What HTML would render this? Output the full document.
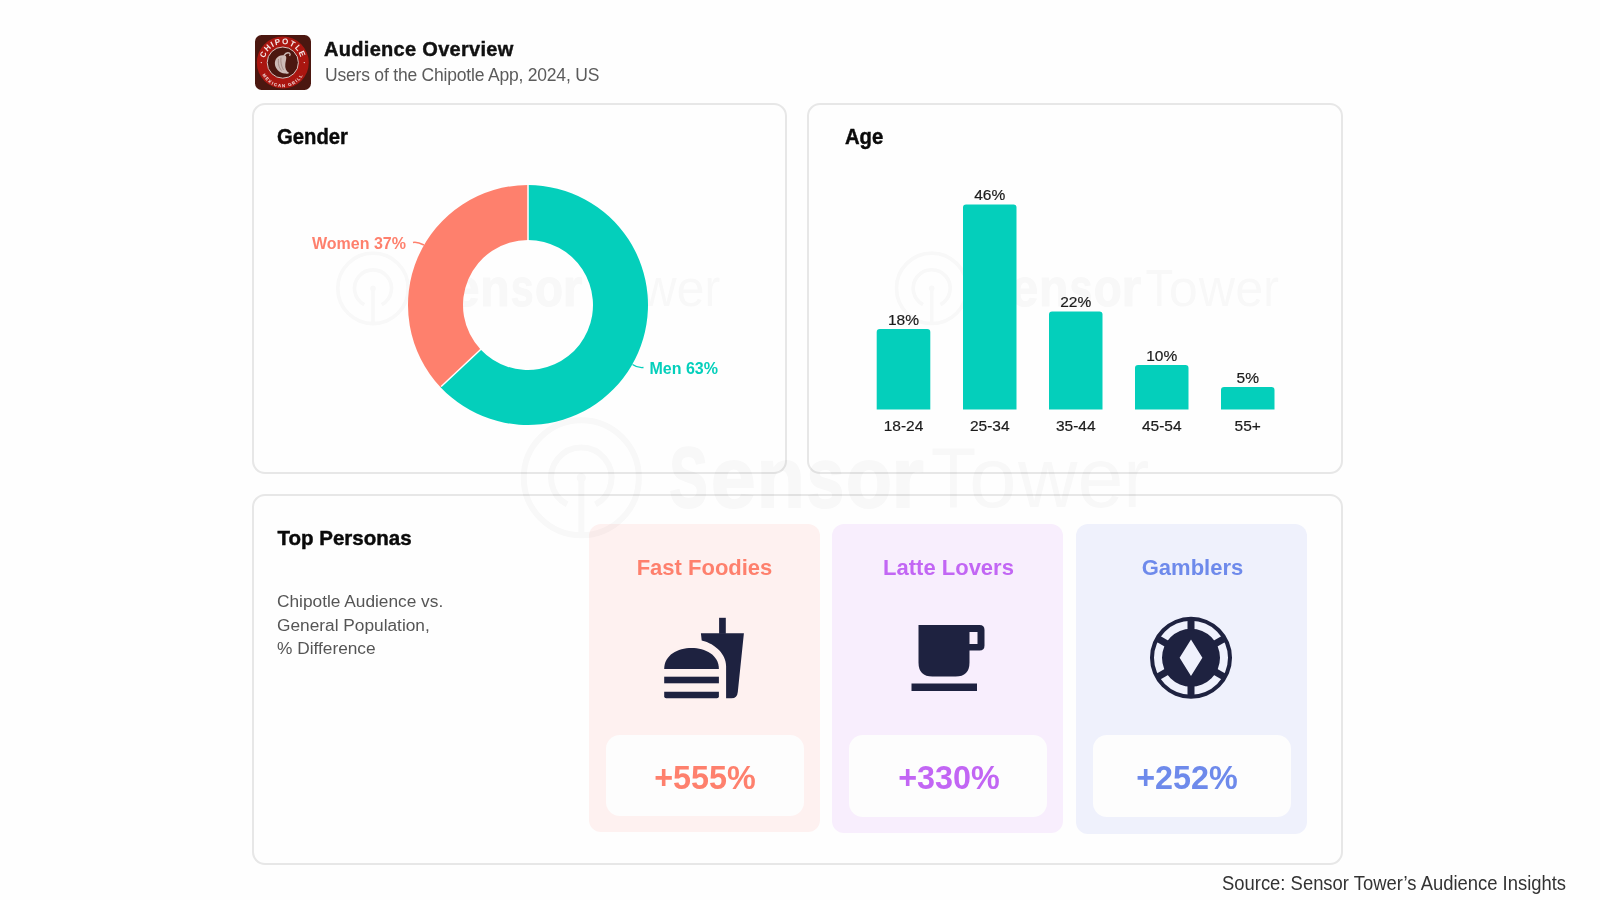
<!DOCTYPE html>
<html><head><meta charset="utf-8">
<style>
html,body{margin:0;padding:0;}
body{width:1600px;height:900px;position:relative;overflow:hidden;background:#fefefe;font-family:"Liberation Sans",sans-serif;}
.abs{position:absolute;}
.card{position:absolute;box-sizing:border-box;border:2px solid #e7e7e7;border-radius:13px;background:transparent;}
.pc{position:absolute;width:231px;height:308px;top:524px;border-radius:12px;}
.pbox{position:absolute;left:17px;top:211px;width:198px;height:81px;border-radius:14px;background:#fdfdfd;}
.t{position:absolute;white-space:nowrap;line-height:1;}
svg{position:absolute;left:0;top:0;}
</style></head>
<body>

<!-- cards -->
<div class="card" style="left:252px;top:103px;width:535px;height:371px;"></div>
<div class="card" style="left:807px;top:103px;width:536px;height:371px;"></div>
<div class="card" style="left:252px;top:494px;width:1091px;height:371px;"></div>

<!-- persona cards -->
<div class="pc" style="left:589px;background:#fef1f0;"><div class="pbox"></div></div>
<div class="pc" style="left:832px;height:309px;background:#f8eefd;"><div class="pbox" style="height:81.5px;"></div></div>
<div class="pc" style="left:1076px;height:310px;background:#eff1fc;"><div class="pbox" style="height:82px;"></div></div>

<!-- watermarks -->
<svg width="1600" height="900" viewBox="0 0 1600 900">
  <defs>
    <g id="wm">
      <g fill="none" stroke="#000" stroke-width="6">
        <circle cx="581.3" cy="477.8" r="57.55"/>
        <path d="M567.1,504.45 A30.25,30.25 0 1 1 595.5,504.45"/>
        <line x1="581.3" y1="479.4" x2="581.3" y2="535"/>
      </g>
      <circle cx="581.3" cy="477.8" r="4.6" fill="#000"/>
      <g font-family="Liberation Sans" fill="#000">
<text transform="translate(671.0,506.5) scale(0.672,1)" x="-2.48" y="0" font-size="86" font-weight="700" stroke="#000" stroke-width="2">S</text>
<text transform="translate(714.0,506.5) scale(0.932,1)" x="-3.36" y="0" font-size="86" font-weight="700" stroke="#000" stroke-width="2">e</text>
<text transform="translate(762.0,506.5) scale(0.915,1)" x="-5.67" y="0" font-size="86" font-weight="700" stroke="#000" stroke-width="2">n</text>
<text transform="translate(809.0,506.5) scale(0.782,1)" x="-3.02" y="0" font-size="86" font-weight="700" stroke="#000" stroke-width="2">s</text>
<text transform="translate(849.0,506.5) scale(0.873,1)" x="-3.36" y="0" font-size="86" font-weight="700" stroke="#000" stroke-width="2">o</text>
<text transform="translate(897.0,506.5) scale(0.962,1)" x="-5.67" y="0" font-size="86" font-weight="700" stroke="#000" stroke-width="2">r</text>
<text transform="translate(932.5,506.5) scale(0.864,1)" x="-1.93" y="0" font-size="86" font-weight="400">T</text>
<text transform="translate(972.5,506.5) scale(0.997,1)" x="-3.61" y="0" font-size="86" font-weight="400">o</text>
<text transform="translate(1018.0,506.5) scale(0.958,1)" x="0.13" y="0" font-size="86" font-weight="400">w</text>
<text transform="translate(1081.0,506.5) scale(0.961,1)" x="-3.65" y="0" font-size="86" font-weight="400">e</text>
<text transform="translate(1128.5,506.5) scale(0.898,1)" x="-5.71" y="0" font-size="86" font-weight="400">r</text>
      </g>
    </g>
  </defs>
  <g opacity="0.027">
    <use href="#wm" transform="translate(373,288.4) scale(0.61162) translate(-581.3,-477.8)"/>
    <use href="#wm" transform="translate(931.7,288.3) scale(0.61162) translate(-581.3,-477.8)"/>
    <use href="#wm"/>
  </g>
</svg>

<!-- graphics -->
<svg width="1600" height="900" viewBox="0 0 1600 900">
  <!-- logo -->
  <g transform="translate(255,35)">
    <rect x="0" y="0" width="56" height="55" rx="6.5" fill="#4b1710"/>
    <circle cx="27.8" cy="27.6" r="26" fill="#aa1610"/>
    <circle cx="27.8" cy="27.6" r="15.6" fill="#4b1710" stroke="#d8c3c0" stroke-width="1"/>
    <path d="M27.5,20.2 C22.5,20.3 19.6,24.5 19.9,29 C20.2,33.5 24,37.8 30,38.6 C32,38.9 33.6,38.6 34.2,38 C31.2,36.2 29.8,33 30.3,29.2 C30.8,25.5 32,22.5 30.6,20.8 C29.8,20.3 28.6,20.2 27.5,20.2 Z" fill="#cdbab6"/>
    <path d="M23.5,24 C23,28 23.5,32 26.5,35.5 M26,22.5 C25.5,27 26.2,31 28.5,35" fill="none" stroke="#8a6d68" stroke-width="0.6"/>
    <path d="M28.8,20.6 C30.5,18.2 33,17.4 34.6,18.2 C35.3,18.8 35.1,20.2 34.6,21" fill="none" stroke="#cdbab6" stroke-width="1.3"/>
    <circle cx="6.3" cy="27.6" r="0.7" fill="#f0dcdc"/>
    <circle cx="49.3" cy="27.6" r="0.7" fill="#f0dcdc"/>
    <defs>
      <path id="arcT" d="M9.3,27.6 A18.5,18.5 0 0 1 46.3,27.6"/>
      <path id="arcB" d="M5,29.5 A22.8,22.8 0 0 0 50.6,29.5"/>
    </defs>
    <text font-family="Liberation Sans" font-size="8" font-weight="700" fill="#f4e8e8" letter-spacing="1.1"><textPath href="#arcT" startOffset="50%" text-anchor="middle">CHIPOTLE</textPath></text>
    <text font-family="Liberation Sans" font-size="4.4" font-weight="700" fill="#f4e8e8" letter-spacing="1.2"><textPath href="#arcB" startOffset="50%" text-anchor="middle">MEXICAN GRILL</textPath></text>
  </g>

  <!-- donut -->
  <path d="M528.00,185.00 A120,120 0 1 1 440.52,387.15 L480.62,349.50 A65,65 0 1 0 528.00,240.00 Z" fill="#04cfbb"/>
  <path d="M440.52,387.15 A120,120 0 0 1 528.00,185.00 L528.00,240.00 A65,65 0 0 0 480.62,349.50 Z" fill="#fe806d"/>
  <line x1="528" y1="184" x2="528" y2="241" stroke="#fff" stroke-width="1.5"/>
  <line x1="441.2" y1="386.5" x2="480.9" y2="349.2" stroke="#fff" stroke-width="1.5"/>
  <!-- leaders -->
  <path d="M413,242.5 C417,241.5 420,243 424,245" fill="none" stroke="#fe806d" stroke-width="1.4"/>
  <path d="M632.5,364.5 C636,367 639,368 643.5,367.5" fill="none" stroke="#04cfbb" stroke-width="1.4"/>

  <!-- bars -->
  <g fill="#04cfbb">
    <path d="M876.7,409.5 V332.1 Q876.7,329 879.8,329 H927.2 Q930.3,329 930.3,332.1 V409.5 Z"/>
    <path d="M963,409.5 V207.6 Q963,204.5 966.1,204.5 H1013.4 Q1016.5,204.5 1016.5,207.6 V409.5 Z"/>
    <path d="M1049,409.5 V314.6 Q1049,311.5 1052.1,311.5 H1099.4 Q1102.5,311.5 1102.5,314.6 V409.5 Z"/>
    <path d="M1135,409.5 V368.1 Q1135,365 1138.1,365 H1185.4 Q1188.5,365 1188.5,368.1 V409.5 Z"/>
    <path d="M1221,409.5 V390.1 Q1221,387 1224.1,387 H1271.4 Q1274.5,387 1274.5,390.1 V409.5 Z"/>
  </g>

  <!-- fast food icon -->
  <g fill="#1e2240">
    <path d="M664.2,668.9 C664.2,641 718.9,641 718.9,668.9 Z"/>
    <rect x="664.2" y="676.7" width="54.7" height="6.6"/>
    <path d="M664.2,691.7 H718.9 V696.3 Q718.9,698.3 716.9,698.3 H666.2 Q664.2,698.3 664.2,696.3 Z"/>
    <rect x="719.1" y="617.8" width="6.7" height="16"/>
    <path d="M700.9,633.3 H743.9 L737.8,692 Q737.2,698.3 731.5,698.3 H726.1 V666 C726.1,655 716,644 701.7,640.6 Z"/>
  </g>

  <!-- coffee icon -->
  <g fill="#1e2240">
    <path fill-rule="evenodd" d="M918.5,625 H979.5 Q984.5,625 984.5,630 V645.5 Q984.5,650.5 979.5,650.5 H969.5 V662.5 Q969.5,676.5 955.5,676.5 H932.5 Q918.5,676.5 918.5,662.5 Z M969.5,632 V644 H977.5 V632 Z"/>
    <rect x="911.5" y="683.5" width="65.5" height="7.5"/>
  </g>

  <!-- poker chip -->
  <g transform="translate(1191,657.8)" fill="#1e2240">
    <path fill-rule="evenodd" d="M0,-41 A41,41 0 1 1 0,41 A41,41 0 1 1 0,-41 Z M0,-37 A37,37 0 1 0 0,37 A37,37 0 1 0 0,-37 Z"/>
    <path fill-rule="evenodd" d="M0,-29 A29,29 0 1 1 0,29 A29,29 0 1 1 0,-29 Z M0,-18.2 L11.4,0 L0,18.2 L-11.4,0 Z"/>
    <g>
      <rect x="-3.5" y="-39" width="7" height="12"/>
      <rect x="-3.5" y="-39" width="7" height="12" transform="rotate(60)"/>
      <rect x="-3.5" y="-39" width="7" height="12" transform="rotate(120)"/>
      <rect x="-3.5" y="-39" width="7" height="12" transform="rotate(180)"/>
      <rect x="-3.5" y="-39" width="7" height="12" transform="rotate(240)"/>
      <rect x="-3.5" y="-39" width="7" height="12" transform="rotate(300)"/>
    </g>
  </g>
</svg>

<!-- texts -->
<div class="t" style="left:324px;top:39px;font-size:20px;font-weight:700;color:#111;letter-spacing:0.3px;-webkit-text-stroke:0.45px #111;">Audience Overview</div>
<div class="t" style="left:325px;top:66.6px;font-size:17.5px;color:#5b5b5b;letter-spacing:-0.2px;">Users of the Chipotle App, 2024, US</div>

<div class="t" style="left:277px;top:126px;font-size:22.5px;font-weight:700;color:#0a0a0a;-webkit-text-stroke:0.45px #0a0a0a;transform:scaleX(0.9);transform-origin:0 0;">Gender</div>
<div class="t" style="left:844.5px;top:126px;font-size:22.5px;font-weight:700;color:#0a0a0a;-webkit-text-stroke:0.45px #0a0a0a;transform:scaleX(0.9);transform-origin:0 0;">Age</div>

<div class="t" style="left:312px;top:235.5px;font-size:16px;font-weight:700;color:#fe806d;">Women 37%</div>
<div class="t" style="left:649.5px;top:360.9px;font-size:16px;font-weight:700;color:#04cfbb;">Men 63%</div>

<!-- bar labels -->
<div class="t" style="left:853.5px;width:100px;text-align:center;top:311.68px;font-size:15.5px;color:#1c1c1c;-webkit-text-stroke:0.2px #1c1c1c;">18%</div>
<div class="t" style="left:939.75px;width:100px;text-align:center;top:187.18px;font-size:15.5px;color:#1c1c1c;-webkit-text-stroke:0.2px #1c1c1c;">46%</div>
<div class="t" style="left:1025.75px;width:100px;text-align:center;top:294.18px;font-size:15.5px;color:#1c1c1c;-webkit-text-stroke:0.2px #1c1c1c;">22%</div>
<div class="t" style="left:1111.75px;width:100px;text-align:center;top:347.68px;font-size:15.5px;color:#1c1c1c;-webkit-text-stroke:0.2px #1c1c1c;">10%</div>
<div class="t" style="left:1197.75px;width:100px;text-align:center;top:369.68px;font-size:15.5px;color:#1c1c1c;-webkit-text-stroke:0.2px #1c1c1c;">5%</div>

<div class="t" style="left:853.5px;width:100px;text-align:center;top:418.3px;font-size:15.5px;color:#1c1c1c;-webkit-text-stroke:0.2px #1c1c1c;">18-24</div>
<div class="t" style="left:939.75px;width:100px;text-align:center;top:418.3px;font-size:15.5px;color:#1c1c1c;-webkit-text-stroke:0.2px #1c1c1c;">25-34</div>
<div class="t" style="left:1025.75px;width:100px;text-align:center;top:418.3px;font-size:15.5px;color:#1c1c1c;-webkit-text-stroke:0.2px #1c1c1c;">35-44</div>
<div class="t" style="left:1111.75px;width:100px;text-align:center;top:418.3px;font-size:15.5px;color:#1c1c1c;-webkit-text-stroke:0.2px #1c1c1c;">45-54</div>
<div class="t" style="left:1197.75px;width:100px;text-align:center;top:418.3px;font-size:15.5px;color:#1c1c1c;-webkit-text-stroke:0.2px #1c1c1c;">55+</div>

<div class="t" style="left:277.5px;top:527.6px;font-size:20.5px;font-weight:700;color:#0a0a0a;-webkit-text-stroke:0.45px #0a0a0a;">Top Personas</div>
<div class="t" style="left:277px;top:590.2px;font-size:17.3px;line-height:23.35px;color:#555;white-space:normal;width:250px;">Chipotle Audience vs.<br>General Population,<br>% Difference</div>

<div class="t" style="left:589px;width:231px;text-align:center;top:556.7px;font-size:22px;font-weight:700;color:#fe806d;">Fast Foodies</div>
<div class="t" style="left:833px;width:231px;text-align:center;top:556.7px;font-size:22px;font-weight:700;color:#c266f4;">Latte Lovers</div>
<div class="t" style="left:1077px;width:231px;text-align:center;top:556.7px;font-size:22px;font-weight:700;color:#6e8aeb;">Gamblers</div>

<div class="t" style="left:606px;width:198px;text-align:center;top:760.1px;font-size:34px;font-weight:700;transform:scaleX(0.95);color:#fe806d;">+555%</div>
<div class="t" style="left:850px;width:198px;text-align:center;top:760.1px;font-size:34px;font-weight:700;transform:scaleX(0.95);color:#c266f4;">+330%</div>
<div class="t" style="left:1088px;width:198px;text-align:center;top:760.1px;font-size:34px;font-weight:700;transform:scaleX(0.95);color:#6e8aeb;">+252%</div>

<div class="t" style="left:1221.5px;top:873.1px;font-size:20px;color:#333;transform:scaleX(0.921);transform-origin:0 0;">Source: Sensor Tower’s Audience Insights</div>

</body></html>
